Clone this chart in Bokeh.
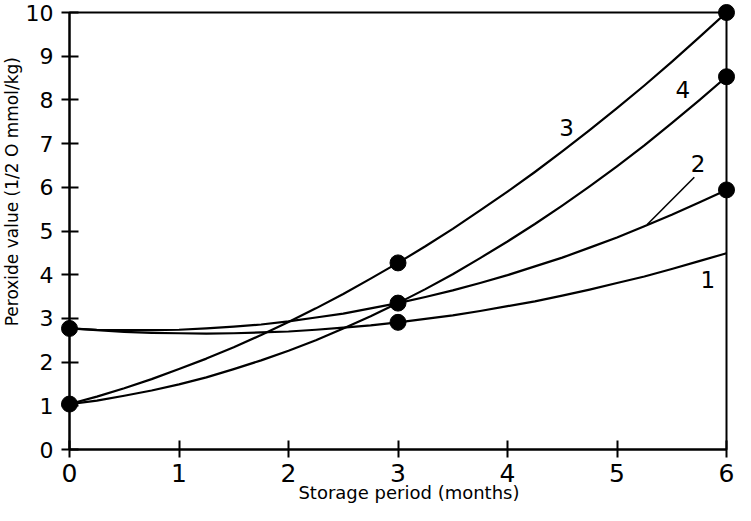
from bokeh.plotting import figure
from bokeh.models import FixedTicker, Range1d
from bokeh.embed import file_html
from bokeh.resources import INLINE
from bokeh.core.properties import value
import math

# ---- data ----
months = [0, 0.25, 0.5, 0.75, 1, 1.25, 1.5, 1.75, 2, 2.25, 2.5, 2.75, 3,
          3.25, 3.5, 3.75, 4, 4.25, 4.5, 4.75, 5, 5.25, 5.5, 5.75, 6]
curve1 = [2.77, 2.73, 2.69, 2.67, 2.66, 2.65, 2.66, 2.68, 2.70, 2.74, 2.79, 2.84, 2.91,
          2.99, 3.07, 3.17, 3.28, 3.39, 3.52, 3.66, 3.81, 3.96, 4.13, 4.31, 4.49]
curve2 = [2.77, 2.74, 2.73, 2.73, 2.74, 2.77, 2.81, 2.86, 2.93, 3.02, 3.11, 3.23, 3.35,
          3.49, 3.64, 3.81, 3.99, 4.19, 4.39, 4.62, 4.85, 5.11, 5.37, 5.65, 5.94]
curve3 = [1.04, 1.21, 1.40, 1.61, 1.84, 2.08, 2.34, 2.62, 2.92, 3.23, 3.56, 3.91, 4.27,
          4.65, 5.05, 5.47, 5.90, 6.35, 6.82, 7.31, 7.81, 8.33, 8.87, 9.43, 10.0]
curve4 = [1.04, 1.12, 1.23, 1.35, 1.49, 1.65, 1.84, 2.04, 2.26, 2.50, 2.77, 3.05, 3.35,
          3.67, 4.01, 4.38, 4.76, 5.16, 5.58, 6.02, 6.48, 6.96, 7.47, 7.99, 8.53]

point_x = [0, 0, 3, 3, 3, 6, 6, 6]
point_y = [2.77, 1.04, 4.27, 3.35, 2.91, 10.0, 8.53, 5.94]

x_ticks = [0, 1, 2, 3, 4, 5, 6]
y_ticks = [0, 1, 2, 3, 4, 5, 6, 7, 8, 9, 10]

curve_names = ["1", "2", "3", "4"]
name_x = [5.83, 5.74, 4.54, 5.60]
name_y = [3.90, 6.54, 7.36, 8.24]
leader_x = [5.276, 5.706]
leader_y = [5.15, 6.23]

x_title = "Storage period (months)"
y_title = "Peroxide value (1/2 O mmol/kg)"

# ---- layout ----
W, H = 735, 505
LEFT, RIGHT, TOP, BOTTOM = 69, 9, 12, 56
FW = W - LEFT - RIGHT
FH = H - TOP - BOTTOM
FONT = "DejaVu Sans"

p = figure(width=W, height=H, x_range=Range1d(0, 6), y_range=Range1d(0, 10),
           output_backend="svg", toolbar_location=None,
           min_border_left=LEFT, min_border_right=RIGHT,
           min_border_top=TOP, min_border_bottom=BOTTOM)
p.grid.visible = False
p.background_fill_color = "white"
p.border_fill_color = "white"
p.outline_line_color = "black"
p.outline_line_width = 2
p.outline_line_alpha = 1.0

for ax in (p.xaxis[0], p.yaxis[0]):
    ax.axis_line_width = 2
    ax.axis_line_color = "black"
    ax.major_tick_line_width = 2
    ax.major_tick_line_color = "black"
    ax.major_tick_in = 9
    ax.major_tick_out = 8
    ax.minor_tick_line_color = None
    ax.major_label_text_font = FONT
    ax.major_label_text_color = "black"

p.xaxis.ticker = FixedTicker(ticks=x_ticks)
p.yaxis.ticker = FixedTicker(ticks=y_ticks)
p.xaxis.major_label_text_font_size = "25px"
p.yaxis.major_label_text_font_size = "22px"
p.xaxis.major_label_standoff = 6
p.yaxis.major_label_standoff = 8

for c in (curve1, curve2, curve3, curve4):
    p.line(months, c, line_width=2.2, line_color="black", line_join="round")

p.line(leader_x, leader_y, line_width=1.6, line_color="black")

p.scatter(point_x, point_y, size=16, fill_color="black", line_color="black",
          level="overlay")

p.text(x=name_x, y=name_y, text=curve_names, text_font=value(FONT),
       text_font_size="23px", text_align="center", text_baseline="middle",
       text_color="black")

# axis titles drawn as unclipped text (pixel offsets converted to data units)
px_x = 6 / FW
px_y = 10 / FH
p.text(x=[3.1], y=[-43 * px_y], text=[x_title], text_font=value(FONT),
       text_font_size="18px", text_align="center", text_baseline="middle",
       text_color="black", level="overlay")
p.text(x=[-(LEFT - 11) * px_x], y=[5.9], text=[y_title], text_font=value(FONT),
       text_font_size="17px", text_align="center", text_baseline="middle",
       angle=math.pi / 2, text_color="black", level="overlay")

open("out.html", "w").write(file_html(p, INLINE))
